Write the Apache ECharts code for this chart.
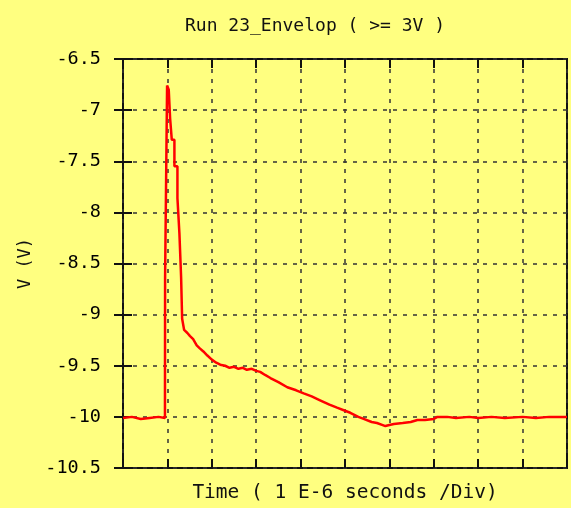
<!DOCTYPE html>
<html>
<head>
<meta charset="utf-8">
<script src="https://cdn.jsdelivr.net/npm/echarts@6/dist/echarts.min.js"></script>
<style>
  html, body { margin: 0; padding: 0; background: #ffff80; }
  #chart { width: 571px; height: 508px; }
</style>
</head>
<body>
<div id="chart"></div>
<script>
// Time in divisions (1 E-6 s per div), voltage in V
const timeDiv = [
  0, 0.2, 0.4, 0.6, 0.8, 0.945, 0.948, 0.993, 0.993, 1.03, 1.03, 1.061, 1.061,
  1.099, 1.099, 1.158, 1.158, 1.226, 1.226, 1.271, 1.271, 1.309, 1.309, 1.332,
  1.332, 1.377, 1.45, 1.51, 1.58, 1.66, 1.73, 1.81, 1.9, 2.0, 2.1, 2.19, 2.3,
  2.4, 2.5, 2.6, 2.7, 2.79, 2.9, 3.0, 3.09, 3.2, 3.32, 3.5, 3.7, 3.9, 4.07,
  4.25, 4.45, 4.65, 4.82, 5.0, 5.12, 5.3, 5.42, 5.6, 5.72, 5.85, 5.91, 6.0,
  6.1, 6.3, 6.48, 6.63, 6.8, 7.0, 7.08, 7.3, 7.5, 7.8, 8.0, 8.3, 8.6, 9.0,
  9.3, 9.6, 10
];
const volts = [
  -10.01, -10.0, -10.02, -10.01, -10.0, -10.01, -8.64, -8.64, -6.76, -6.76,
  -6.80, -6.80, -7.08, -7.08, -7.29, -7.29, -7.55, -7.55, -7.86, -7.86, -8.21,
  -8.21, -8.64, -8.64, -9.04, -9.15, -9.18, -9.21, -9.24, -9.30, -9.33, -9.36,
  -9.40, -9.44, -9.47, -9.49, -9.50, -9.52, -9.51, -9.53, -9.52, -9.54, -9.53,
  -9.55, -9.56, -9.59, -9.62, -9.66, -9.71, -9.74, -9.77, -9.80, -9.84, -9.88,
  -9.91, -9.94, -9.96, -10.0, -10.02, -10.05, -10.06, -10.08, -10.09, -10.08,
  -10.07, -10.06, -10.05, -10.03, -10.03, -10.02, -10.0, -10.0, -10.01, -10.0,
  -10.01, -10.0, -10.01, -10.0, -10.01, -10.0, -10.0
];

const titleText = 'Run 23_Envelop ( >= 3V )';
const xName = 'Time ( 1 E-6 seconds /Div)';
const yName = 'V (V)';

const font = 'DejaVu Sans Mono';
const gridDash = { color: '#333', width: 1.5, type: [4, 6] };

const chart = echarts.init(document.getElementById('chart'));

chart.setOption({
  backgroundColor: '#ffff80',
  animation: false,
  title: {
    text: titleText,
    left: 180,
    top: 12,
    textStyle: { fontFamily: font, fontSize: 18, fontWeight: 'normal', color: '#111' }
  },
  grid: {
    left: 123, right: 4, top: 59, bottom: 40,
    show: true, borderColor: '#111', borderWidth: 2, backgroundColor: 'transparent'
  },
  xAxis: [{
    type: 'value', min: 0, max: 10, interval: 1,
    name: xName, nameLocation: 'middle', nameGap: 15,
    nameTextStyle: { fontFamily: font, fontSize: 19.5, color: '#111' },
    axisLine: { show: false },
    axisTick: { show: true, inside: true, length: 9, lineStyle: { color: '#111', width: 2 } },
    axisLabel: { show: false },
    splitLine: { show: true, lineStyle: gridDash }
  }, {
    type: 'value', min: 0, max: 10, interval: 1, position: 'top',
    axisLine: { show: false },
    axisTick: { show: true, inside: true, length: 9, lineStyle: { color: '#111', width: 2 } },
    axisLabel: { show: false },
    splitLine: { show: false }
  }],
  yAxis: [{
    type: 'value', min: -10.5, max: -6.5, interval: 0.5,
    name: yName, nameLocation: 'middle', nameGap: 88, nameRotate: 90,
    nameTextStyle: { fontFamily: font, fontSize: 17, color: '#111' },
    axisLine: { show: false },
    axisTick: { show: true, inside: true, length: 9, lineStyle: { color: '#111', width: 2 } },
    axisLabel: { fontFamily: font, fontSize: 18.5, color: '#000', margin: 22 },
    splitLine: { show: true, lineStyle: gridDash }
  }, {
    type: 'value', min: -10.5, max: -6.5, interval: 0.5, position: 'right',
    axisLine: { show: false },
    axisTick: { show: true, inside: true, length: 9, lineStyle: { color: '#111', width: 2 } },
    axisLabel: { show: false },
    splitLine: { show: false }
  }],
  series: [{
    type: 'line',
    data: timeDiv.map((t, i) => [t, volts[i]]),
    showSymbol: false,
    lineStyle: { color: '#ff0000', width: 2.5 },
    itemStyle: { color: '#ff0000' }
  }]
});
</script>
</body>
</html>
